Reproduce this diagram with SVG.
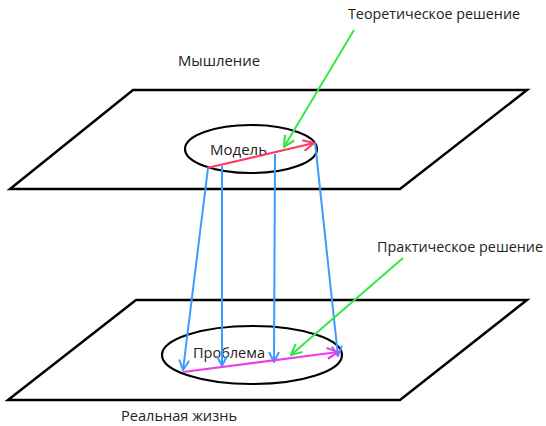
<svg xmlns="http://www.w3.org/2000/svg" width="546" height="426" viewBox="0 0 546 426">
<style>
.plane{fill:none;stroke:#000;stroke-width:2.5;stroke-linejoin:miter}
.ell{fill:none;stroke:#000;stroke-width:2.2}
.t{font-family:"Open Sans","Liberation Sans",sans-serif;font-size:14px;fill:#222}
.blue{stroke:#3d9bff;stroke-width:2;fill:none}
.red{stroke:#ff3c64;stroke-width:2.2;fill:none}
.mag{stroke:#ee3cee;stroke-width:2.2;fill:none}
.green{stroke:#33e845;stroke-width:2;fill:none}
</style>
<defs>
<marker id="mb" viewBox="0 0 12 12" refX="11" refY="6" markerWidth="12" markerHeight="12" markerUnits="userSpaceOnUse" orient="auto"><path d="M1,1 L11,6 L1,11" fill="none" stroke="#3d9bff" stroke-width="2"/></marker>
<marker id="mr" viewBox="0 0 12 12" refX="11" refY="6" markerWidth="13" markerHeight="13" markerUnits="userSpaceOnUse" orient="auto"><path d="M1,1 L11,6 L1,11" fill="none" stroke="#ff3c64" stroke-width="2"/></marker>
<marker id="mm" viewBox="0 0 12 12" refX="11" refY="6" markerWidth="13" markerHeight="13" markerUnits="userSpaceOnUse" orient="auto"><path d="M1,1 L11,6 L1,11" fill="none" stroke="#ee3cee" stroke-width="2"/></marker>
<marker id="mg" viewBox="0 0 12 12" refX="11" refY="6" markerWidth="13" markerHeight="13" markerUnits="userSpaceOnUse" orient="auto"><path d="M1,1 L11,6 L1,11" fill="none" stroke="#33e845" stroke-width="2"/></marker>
</defs>
<rect width="546" height="426" fill="#fff"/>
<g id="plane-thinking">
<polygon class="plane" points="133,90 527,90 400,189 10,189"/>
<text class="t" x="178" y="66" textLength="82" lengthAdjust="spacingAndGlyphs">Мышление</text>
</g>
<g id="plane-life">
<polygon class="plane" points="136,300 527,300 400,400 8,400"/>
<text class="t" x="121" y="421" textLength="116" lengthAdjust="spacingAndGlyphs">Реальная жизнь</text>
</g>
<g id="model">
<ellipse class="ell" cx="251" cy="149" rx="66" ry="24"/>
<text class="t" x="210" y="155" textLength="57" lengthAdjust="spacingAndGlyphs">Модель</text>
</g>
<g id="problem">
<ellipse class="ell" cx="252" cy="355" rx="90" ry="29"/>
<text class="t" x="193" y="358" textLength="72" lengthAdjust="spacingAndGlyphs">Проблема</text>
</g>
<g id="label-theory">
<text class="t" x="348" y="19" textLength="172" lengthAdjust="spacingAndGlyphs">Теоретическое решение</text>
</g>
<g id="label-practice">
<text class="t" x="377" y="252" textLength="166" lengthAdjust="spacingAndGlyphs">Практическое решение</text>
</g>
<g id="connectors">
<line class="blue" x1="208" y1="168" x2="183" y2="370" marker-end="url(#mb)"/>
<line class="blue" x1="222" y1="166" x2="222" y2="366" marker-end="url(#mb)"/>
<line class="blue" x1="275" y1="154" x2="274" y2="362" marker-end="url(#mb)"/>
<line class="blue" x1="315" y1="142" x2="338" y2="356" marker-end="url(#mb)"/>
<line class="red" x1="207" y1="168" x2="314" y2="143" marker-end="url(#mr)"/>
<line class="mag" x1="183" y1="372" x2="338" y2="352" marker-end="url(#mm)"/>
<line class="green" x1="354" y1="30" x2="284" y2="147" marker-end="url(#mg)"/>
<line class="green" x1="403" y1="258" x2="291" y2="355" marker-end="url(#mg)"/>
</g>
</svg>
